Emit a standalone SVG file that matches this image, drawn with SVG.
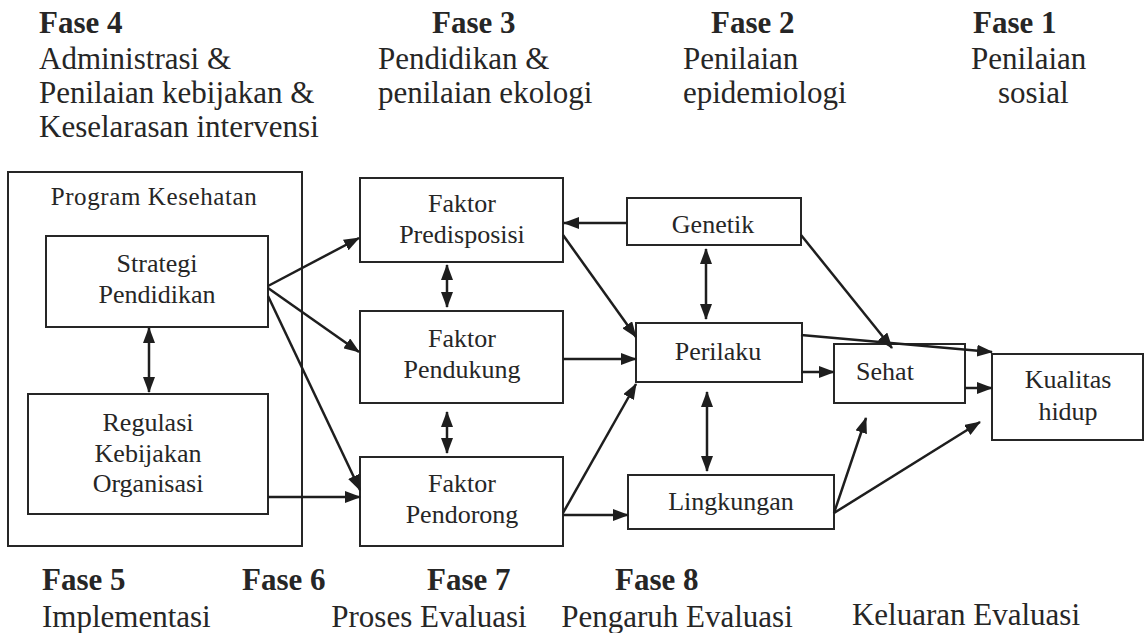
<svg xmlns="http://www.w3.org/2000/svg" width="1145" height="633" viewBox="0 0 1145 633" font-family="'Liberation Serif', 'Times New Roman', Times, 'DejaVu Serif', serif">
<style>
text{font-family:'Liberation Serif','Times New Roman',Times,'DejaVu Serif',serif;fill:#262626}
.h{font-size:31px}
.hb{font-size:31px;font-weight:bold}
.n{font-size:26px;text-anchor:middle}
.box{fill:#fff;stroke:#262626;stroke-width:2}
.c line{stroke:#1e1e1e;stroke-width:2.5;marker-end:url(#ah)}
.c line.d{marker-start:url(#ah)}
</style>
<defs>
<marker id="ah" markerUnits="userSpaceOnUse" markerWidth="16" markerHeight="12" refX="15" refY="6" orient="auto-start-reverse">
<path d="M0,0 L16,6 L0,12 z" fill="#1e1e1e"/>
</marker>
</defs>
<rect width="1145" height="633" fill="#fff"/>

<g id="header">
<text class="hb" x="39" y="33">Fase 4</text>
<text class="h" x="39" y="69">Administrasi &amp;</text>
<text class="h" x="39" y="103">Penilaian kebijakan &amp;</text>
<text class="h" x="39" y="137">Keselarasan intervensi</text>
<text class="hb" x="432" y="33">Fase 3</text>
<text class="h" x="378" y="69">Pendidikan &amp;</text>
<text class="h" x="378" y="103">penilaian ekologi</text>
<text class="hb" x="711" y="33">Fase 2</text>
<text class="h" x="683" y="69">Penilaian</text>
<text class="h" x="683" y="103">epidemiologi</text>
<text class="hb" x="973" y="33">Fase 1</text>
<text class="h" x="971" y="69">Penilaian</text>
<text class="h" x="998" y="103">sosial</text>
</g>

<g id="footer">
<text class="hb" x="42" y="590">Fase 5</text>
<text class="h" x="42" y="627">Implementasi</text>
<text class="hb" x="242" y="590">Fase 6</text>
<text class="hb" x="427" y="590">Fase 7</text>
<text class="h" x="429" y="627" text-anchor="middle">Proses Evaluasi</text>
<text class="hb" x="615" y="590">Fase 8</text>
<text class="h" x="677" y="627" text-anchor="middle">Pengaruh Evaluasi</text>
<text class="h" x="966" y="625" text-anchor="middle">Keluaran Evaluasi</text>
</g>

<g id="program">
<rect class="box" x="8" y="172" width="294" height="374"/>
<text class="n" x="154" y="205" style="font-size:25px;letter-spacing:0.6px">Program Kesehatan</text>
</g>
<g id="strategi">
<rect class="box" x="46" y="236" width="222" height="91"/>
<text class="n" x="157" y="272">Strategi</text>
<text class="n" x="157" y="303">Pendidikan</text>
</g>
<g id="regulasi">
<rect class="box" x="28" y="394" width="240" height="120"/>
<text class="n" x="148" y="431">Regulasi</text>
<text class="n" x="148" y="462">Kebijakan</text>
<text class="n" x="148" y="492">Organisasi</text>
</g>
<g id="predisposisi">
<rect class="box" x="360" y="178" width="203" height="84"/>
<text class="n" x="462" y="212">Faktor</text>
<text class="n" x="462" y="243">Predisposisi</text>
</g>
<g id="pendukung">
<rect class="box" x="360" y="311" width="203" height="92"/>
<text class="n" x="462" y="347">Faktor</text>
<text class="n" x="462" y="378">Pendukung</text>
</g>
<g id="pendorong">
<rect class="box" x="360" y="457" width="203" height="89"/>
<text class="n" x="462" y="492">Faktor</text>
<text class="n" x="462" y="523">Pendorong</text>
</g>
<g id="genetik">
<rect class="box" x="627" y="198" width="174" height="47"/>
<text class="n" x="713" y="233">Genetik</text>
</g>
<g id="perilaku">
<rect class="box" x="636" y="323" width="166" height="59"/>
<text class="n" x="718" y="360">Perilaku</text>
</g>
<g id="lingkungan">
<rect class="box" x="628" y="475" width="206" height="54"/>
<text class="n" x="731" y="510">Lingkungan</text>
</g>
<g id="sehat">
<rect class="box" x="834" y="344" width="131" height="59"/>
<text class="n" x="885" y="380">Sehat</text>
</g>
<g id="kualitas">
<rect class="box" x="992" y="354" width="151" height="86"/>
<text class="n" x="1068" y="388">Kualitas</text>
<text class="n" x="1068" y="420">hidup</text>
</g>

<g id="connectors" class="c">
<line x1="268" y1="286" x2="359" y2="238"/>
<line x1="268" y1="288" x2="359" y2="352"/>
<line x1="268" y1="296" x2="360" y2="490"/>
<line x1="268" y1="497" x2="360" y2="497"/>
<line class="d" x1="149" y1="328" x2="149" y2="392"/>
<line class="d" x1="447" y1="265" x2="447" y2="307"/>
<line class="d" x1="447" y1="412" x2="447" y2="453"/>
<line x1="627" y1="223" x2="564" y2="223"/>
<line x1="563" y1="235" x2="636" y2="337"/>
<line x1="563" y1="359" x2="636" y2="359"/>
<line x1="563" y1="513" x2="636" y2="384"/>
<line x1="563" y1="515" x2="628" y2="515"/>
<line class="d" x1="706" y1="249" x2="706" y2="319"/>
<line class="d" x1="707" y1="392" x2="707" y2="471"/>
<line x1="801" y1="235" x2="892" y2="348"/>
<line x1="801" y1="335" x2="992" y2="352"/>
<line x1="801" y1="372" x2="834" y2="372"/>
<line x1="965" y1="388" x2="992" y2="388"/>
<line x1="834" y1="513" x2="866" y2="418"/>
<line x1="834" y1="513" x2="980" y2="422"/>
</g>
</svg>
